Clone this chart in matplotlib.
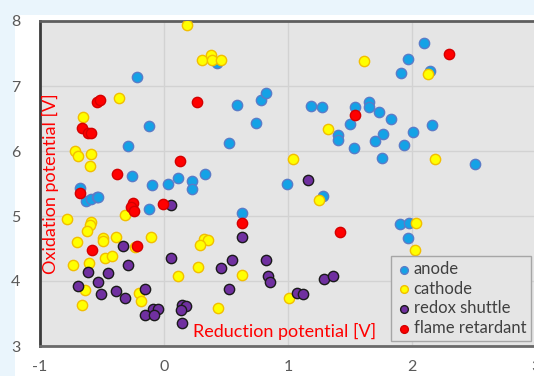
import matplotlib.pyplot as plt
from matplotlib.patches import Rectangle

# punkty (x = potencjal redukcji, y = potencjal utleniania)
anode_x = [-0.22, -0.12, -0.288, -0.26, -0.10, 0.035, 0.115, -0.68, 0.425, 0.589,
           0.78, 0.825, 0.739, 0.527, 1.183, 1.274, 1.54, 1.50, 1.40, 1.405,
           1.53, 0.99, 0.223, 0.33, 0.223, 2.10, 1.965, 1.91, 2.145, 1.65,
           1.656, 1.736, 1.828, 2.16, 2.008, 1.764, 1.70, 1.935, 1.758, 2.508,
           -0.629, -0.59, -0.543, -0.535, -0.118, 1.285, 0.629, 1.903, 1.978, 1.965]
anode_y = [7.14, 6.38, 6.08, 5.62, 5.48, 5.49, 5.59, 5.43, 7.36, 6.71,
           6.78, 6.89, 6.43, 6.12, 6.70, 6.67, 6.68, 6.41, 6.24, 6.17,
           6.04, 5.50, 5.54, 5.64, 5.41, 7.66, 7.42, 7.20, 7.23, 6.76,
           6.67, 6.60, 6.49, 6.40, 6.29, 6.26, 6.15, 6.10, 5.90, 5.80,
           5.23, 5.26, 5.29, 5.30, 5.11, 5.31, 5.04, 4.88, 4.89, 4.66]

cathode_x = [0.188, 0.304, 0.377, 0.385, 0.457, -0.36, -0.65, -0.718, -0.69, -0.59,
             -0.60, 1.32, 1.043, 1.613, 2.125, 2.185, -0.785, -0.317, -0.59, -0.60,
             -0.618, -0.70, -0.494, -0.49, -0.387, -0.107, -0.234, -0.478, -0.422, -0.73,
             -0.605, -0.64, -0.20, -0.183, -0.664, 0.115, 1.25, 0.323, 0.355, 0.29,
             0.277, 0.627, 1.01, 0.433, 2.03, 2.024]
cathode_y = [7.94, 7.40, 7.47, 7.40, 7.40, 6.81, 6.53, 6.00, 5.93, 5.95,
             5.77, 6.34, 5.88, 7.38, 7.19, 5.88, 4.95, 5.02, 4.91, 4.86,
             4.77, 4.60, 4.66, 4.61, 4.68, 4.68, 4.53, 4.36, 4.39, 4.25,
             4.27, 3.86, 3.82, 3.70, 3.63, 4.08, 5.25, 4.64, 4.63, 4.55,
             4.21, 4.09, 3.74, 3.58, 4.89, 4.48]

redox_x = [1.16, 0.054, -0.328, 0.056, -0.615, -0.29, -0.454, -0.53, -0.694, -0.51,
           -0.39, -0.317, -0.15, -0.091, -0.046, -0.15, -0.078, 0.629, 0.546, 0.457,
           0.825, 0.84, 0.855, 1.29, 1.36, 0.524, 1.07, 1.118, 0.142, 0.177,
           0.14, 0.148]
redox_y = [5.55, 5.17, 4.54, 4.36, 4.14, 4.24, 4.13, 3.99, 3.93, 3.80,
           3.84, 3.74, 3.88, 3.57, 3.57, 3.47, 3.48, 4.68, 4.33, 4.20,
           4.33, 4.07, 3.98, 4.03, 4.08, 3.87, 3.82, 3.80, 3.63, 3.62,
           3.55, 3.35]

flame_x = [-0.543, -0.516, -0.664, -0.61, -0.59, -0.377, 0.13, 0.269, 1.54, 2.30,
           -0.677, -0.248, -0.27, -0.24, -0.01, -0.583, -0.215, 0.629, 1.42]
flame_y = [6.75, 6.785, 6.35, 6.28, 6.28, 5.65, 5.84, 6.76, 6.56, 7.49,
           5.35, 5.205, 5.14, 5.08, 5.18, 4.47, 4.54, 4.89, 4.75]

serie = [
    ('anode', anode_x, anode_y, '#14A2E6', '#5A7CC8'),
    ('cathode', cathode_x, cathode_y, '#FFFF00', '#F2BE00'),
    ('redox shuttle', redox_x, redox_y, '#7030A0', '#1A1A1A'),
    ('flame retardant', flame_x, flame_y, '#FF0000', '#D40000'),
]

plt.rcParams['font.family'] = ['Lato', 'DejaVu Sans']
plt.rcParams['axes.unicode_minus'] = False

fig = plt.figure(figsize=(5.34, 3.76), dpi=100)
fig.patch.set_facecolor('#EAF5FC')
# biala ramka pod wykresem
fig.patches.append(Rectangle((15 / 534, 0), 1, 1 - 15 / 376, transform=fig.transFigure,
                             facecolor='white', edgecolor='none', zorder=-5))

ax = fig.add_axes([40 / 534, 30 / 376, 496 / 534, 325 / 376])
ax.set_facecolor('#E5E5E5')

for nazwa, xs, ys, kolor, krawedz in serie:
    ax.scatter(xs, ys, s=55, color=kolor, edgecolors=krawedz, linewidths=1.0,
               label=nazwa, zorder=3)

ax.set_xlim(-1, 3)
ax.set_ylim(3, 8)
ax.set_xticks([-1, 0, 1, 2, 3])
ax.set_yticks([3, 4, 5, 6, 7, 8])
ax.grid(True, color='#D2D2D2', linewidth=1.0)
ax.set_axisbelow(True)
ax.tick_params(length=0, labelsize=11.5, labelcolor='#595959')
ax.tick_params(axis='y', pad=14)
ax.tick_params(axis='x', pad=10)

ax.spines['top'].set_color('#5E5E5E')
ax.spines['top'].set_linewidth(2)
ax.spines['left'].set_color('#3A3A3A')
ax.spines['left'].set_linewidth(2)
ax.spines['bottom'].set_color('#6A6A6A')
ax.spines['bottom'].set_linewidth(2)
ax.spines['right'].set_visible(False)

ax.text(0.022, 0.498, 'Oxidation potential [V]', transform=ax.transAxes, rotation=90,
        color='#FF0000', fontsize=13, ha='center', va='center')
ax.text(0.493, 0.046, 'Reduction potential [V]', transform=ax.transAxes,
        color='#FF0000', fontsize=13, ha='center', va='center')

leg = ax.legend(loc='lower right', bbox_to_anchor=(0.99, 0.015), borderaxespad=0,
                fontsize=12, markerscale=0.75, handletextpad=0.15, handlelength=0.9,
                labelspacing=0.22, borderpad=0.3, fancybox=False, framealpha=1)
leg.get_frame().set_facecolor('#E5E5E5')
leg.get_frame().set_edgecolor('#A6A6A6')
for t in leg.get_texts():
    t.set_color('#404040')

fig.savefig('out.png', dpi=100, facecolor=fig.get_facecolor())
